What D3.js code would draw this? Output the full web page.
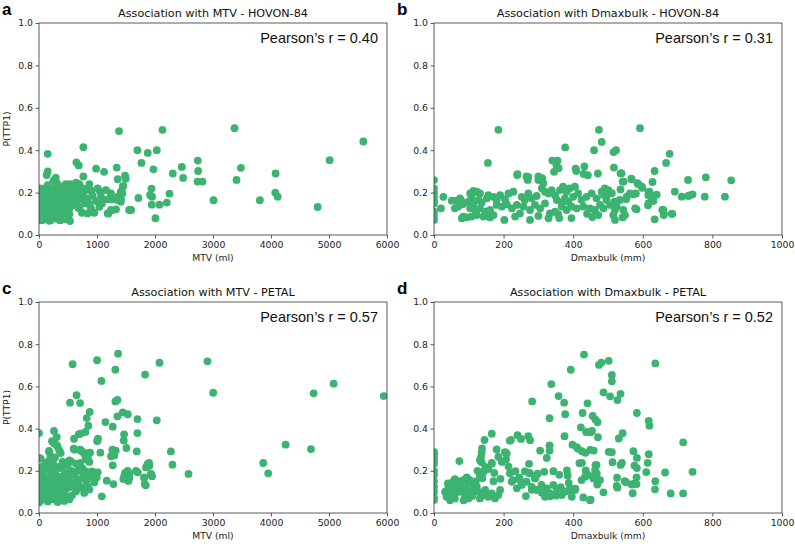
<!DOCTYPE html>
<html><head><meta charset="utf-8">
<script src="https://cdn.jsdelivr.net/npm/d3@7"></script>
<style>body{margin:0;background:#fff}svg{display:block}</style>
</head><body>
<svg id="c" width="795" height="544"></svg>
<script>
const mtvHovon = [[1380,0.49],[2129,0.496],[3371,0.504],[5592,0.441],[5011,0.353],[150,0.383],[765,0.414],[1697,0.4],[1875,0.387],[2031,0.4],[1766,0.34],[1973,0.31],[1340,0.318],[984,0.313],[1122,0.298],[645,0.343],[685,0.328],[150,0.3],[132,0.283],[288,0.271],[247,0.255],[765,0.276],[1358,0.263],[1484,0.28],[1496,0.265],[2307,0.29],[2462,0.321],[2485,0.269],[2738,0.351],[2744,0.302],[2733,0.252],[2819,0.252],[3481,0.317],[3406,0.26],[4079,0.29],[4073,0.2],[4114,0.181],[3808,0.164],[3009,0.164],[4804,0.132],[2250,0.195],[2204,0.153],[2077,0.143],[2008,0.079],[1939,0.219],[1916,0.189],[1950,0.181],[1944,0.143],[1714,0.175],[1553,0.118],[1588,0.118],[1444,0.228],[1410,0.205],[1438,0.197],[1254,0.168],[1410,0.157],[1197,0.102],[1254,0.117],
[534,0.24],[638,0.247],[695,0.24],[868,0.24],[569,0.22],[810,0.212],[902,0.209],[1011,0.22],[1052,0.205],[1155,0.212],[1241,0.196],[1270,0.181],[1184,0.168],[1385,0.184],[1356,0.165],[1414,0.168],[1454,0.232],[1069,0.181],[1086,0.165],[983,0.16],[925,0.186],[839,0.173],[753,0.189],[782,0.149],[868,0.145],[897,0.125],[954,0.105],[839,0.102],[1040,0.133],[1086,0.149],[1184,0.102],[1241,0.118],[1327,0.121],[695,0.125],[741,0.105],[638,0.165],[592,0.149],[523,0.125],[523,0.098],[534,0.066],[437,0.086],[379,0.071],[293,0.078],[178,0.067],[63,0.071],[667,0.204],[753,0.22],
[20,0.22],[60,0.21],[100,0.22],[140,0.2],[180,0.21],[220,0.22],[260,0.2],[300,0.21],[340,0.23],[380,0.2],[420,0.22],[460,0.24],[500,0.21],
[10,0.18],[45,0.17],[80,0.19],[120,0.17],[160,0.18],[200,0.16],[240,0.18],[280,0.17],[320,0.19],[360,0.16],[400,0.18],[440,0.17],[480,0.19],[520,0.16],[560,0.18],
[15,0.14],[50,0.13],[90,0.15],[130,0.12],[170,0.14],[210,0.13],[250,0.15],[290,0.12],[330,0.14],[370,0.13],[410,0.15],[450,0.12],[490,0.14],[530,0.13],
[25,0.1],[65,0.09],[105,0.11],[145,0.1],[185,0.09],[225,0.11],[265,0.1],[305,0.09],[345,0.11],[385,0.1],[425,0.09],[465,0.1],
[5,0.08],[40,0.07],[120,0.08],[200,0.07],[280,0.08],[360,0.07],[450,0.075],
[30,0.195],[110,0.155],[190,0.195],[270,0.135],[350,0.175],[430,0.135],[510,0.195],[70,0.115],[150,0.235],[230,0.155],[310,0.245],[390,0.225],[470,0.155],[550,0.22],[600,0.23],[580,0.14],[620,0.19],[650,0.16],[700,0.2],[720,0.17],[680,0.13]];

const dmaxHovon = [[185,0.496],[474,0.496],[592,0.504],[482,0.439],[460,0.4],[516,0.391],[523,0.4],[377,0.413],[155,0.34],[340,0.351],[355,0.351],[352,0.328],[358,0.315],[345,0.298],[240,0.287],[271,0.274],[269,0.26],[300,0.276],[311,0.268],[407,0.313],[409,0.302],[432,0.323],[430,0.288],[442,0.282],[471,0.29],[517,0.318],[539,0.291],[545,0.252],[567,0.266],[586,0.241],[599,0.222],[628,0.25],[634,0.302],[667,0.34],[677,0.383],[692,0.205],[712,0.181],[730,0.26],[734,0.187],[743,0.192],[781,0.272],[778,0.181],[836,0.181],[854,0.258],[634,0.074],[656,0.118],[660,0.094],[685,0.1],
[0,0.259],[0,0.22],[0,0.18],[0,0.149],[0,0.11],[0,0.071],[0,0.2],[0,0.16],[0,0.09],
[27,0.18],[20,0.126],[51,0.162],[65,0.162],[75,0.173],[80,0.157],[84,0.146],[70,0.134],[60,0.126],[84,0.087],[94,0.083],[80,0.079],[104,0.196],[113,0.208],[123,0.204],[132,0.196],[108,0.181],[99,0.157],[113,0.149],[128,0.165],[137,0.153],[152,0.173],[104,0.126],[118,0.118],[132,0.126],[147,0.11],[161,0.118],[108,0.087],[123,0.094],[142,0.087],[161,0.083],[171,0.094],[156,0.188],[171,0.18],[180,0.165],[190,0.188],[204,0.168],[180,0.142],[195,0.134],[209,0.145],[224,0.126],[238,0.142],[214,0.196],[228,0.204],[239,0.283],[202,0.071],[233,0.087],[247,0.102],[252,0.18],[261,0.165],[271,0.196],[281,0.173],[295,0.184],[266,0.276],[257,0.134],[276,0.118],[290,0.142],[305,0.126],[319,0.149],[276,0.071],[300,0.26],[310,0.22],[319,0.204],[329,0.196],[338,0.212],[348,0.188],[314,0.244],[329,0.079],[333,0.102],[348,0.11],[357,0.098],[353,0.165],[367,0.153],[376,0.173],[386,0.157],[400,0.18],[362,0.212],[371,0.228],[381,0.204],[390,0.22],[405,0.228],[414,0.196],[367,0.134],[381,0.118],[395,0.134],[410,0.126],[424,0.165],[438,0.18],[453,0.196],[467,0.173],[482,0.204],[496,0.188],[429,0.134],[448,0.126],[462,0.118],[477,0.142],[487,0.126],
[536,0.29],[568,0.262],[542,0.252],[536,0.215],[585,0.244],[597,0.228],[580,0.196],[573,0.192],[619,0.204],[616,0.188],[626,0.169],[630,0.169],[616,0.149],[563,0.196],[554,0.181],[552,0.169],[534,0.165],[519,0.157],[511,0.197],[501,0.212],[491,0.22],[487,0.189],[496,0.165],[506,0.142],[525,0.134],[520,0.118],[515,0.094],[520,0.071],[544,0.118],[542,0.083],[549,0.094],[578,0.126],[582,0.121],[659,0.118],[661,0.1],[683,0.1],[731,0.184],
[472,0.094],[455,0.085],[395,0.08],[440,0.1],[360,0.08],[300,0.09],[617,0.2],[625,0.18],[630,0.16],[615,0.14],[640,0.19]];

const mtvPetal = [[579,0.705],[1001,0.724],[1363,0.755],[1317,0.679],[1076,0.626],[2077,0.712],[2905,0.719],[1829,0.656],[5080,0.613],[3003,0.57],[4735,0.567],[5943,0.554],[648,0.558],[535,0.523],[708,0.521],[1317,0.529],[1352,0.536],[874,0.479],[823,0.45],[851,0.414],[1145,0.431],[1352,0.458],[1444,0.477],[1530,0.468],[1697,0.445],[2031,0.439],[1271,0.409],[604,0.352],[685,0.373],[714,0.376],[800,0.384],[1018,0.352],[1001,0.341],[1467,0.373],[1461,0.344],[1697,0.379],[1266,0.3],[1323,0.295],[616,0.3],[725,0.295],[851,0.284],[880,0.286],[1058,0.286],[1507,0.308],[1685,0.292],[1242,0.269],[1271,0.226],[2273,0.292],[2301,0.229],[2578,0.185],[3866,0.237],[3952,0.188],[4252,0.324],[4689,0.303],[1703,0.193],[1536,0.186],[1542,0.152],[1484,0.19],[1812,0.166],[1824,0.137],[1841,0.131],[1898,0.237],[1870,0.231],[1933,0.183],[1950,0.174],[1168,0.153],[1283,0.137],[1082,0.079],[1013,0.193],[909,0.197],[840,0.262],[823,0.253],[714,0.237],[0,0.379],[29,0.257],
[259,0.389],[224,0.34],[259,0.329],[305,0.321],[350,0.297],[374,0.284],[172,0.294],[276,0.263],[190,0.256],[5,0.261],[420,0.237],[362,0.221],[391,0.218],[552,0.245],
[305,0.36],[247,0.337],[322,0.314],[598,0.305],[707,0.3],[753,0.289],[799,0.268],[868,0.242],[1011,0.344],[1270,0.297],[1299,0.273],[1529,0.2],[1557,0.185],[1672,0.2],[1557,0.166],[1902,0.224],[1845,0.216],[1816,0.169],[1931,0.185],[1471,0.177],[1454,0.161],[925,0.195],[971,0.184],[994,0.168],[178,0.288],[207,0.265],[408,0.242],[523,0.249],[494,0.226],[638,0.234],[695,0.226],[753,0.211],[552,0.2],[638,0.196],[724,0.2],[810,0.196],[868,0.184],[667,0.161],[753,0.168],[810,0.153],[897,0.164],[954,0.145],[839,0.126],[868,0.111],[753,0.119],[552,0.145],[609,0.134],[523,0.122],[466,0.115],[408,0.103],[293,0.1],[207,0.077],[638,0.103],[569,0.084],[379,0.171],[293,0.178],[207,0.194],[92,0.202],[34,0.186],[121,0.163],[236,0.147],[350,0.139],[63,0.131],[149,0.12],[34,0.108],[236,0.108],[92,0.076],[17,0.068],[322,0.052],[437,0.057],[523,0.065],
[0,0.2],[0,0.16],[0,0.12],[0,0.08],[0,0.05],[60,0.22],[150,0.21],[250,0.2],[330,0.21],[450,0.19],[100,0.17],[180,0.16],[280,0.165],[420,0.16],[500,0.17],[50,0.15],[130,0.14],[200,0.13],[320,0.125],[400,0.135],[480,0.14],[60,0.1],[120,0.09],[170,0.1],[260,0.085],[340,0.09],[450,0.085],[30,0.06],[150,0.055],[250,0.065],[380,0.07],[600,0.18],[680,0.14],[720,0.12],[780,0.095],[250,0.23],[130,0.24]];

const dmaxPetal = [[431,0.751],[474,0.702],[481,0.713],[502,0.721],[511,0.654],[511,0.624],[636,0.709],[393,0.679],[337,0.611],[282,0.529],[358,0.554],[374,0.523],[377,0.468],[487,0.572],[506,0.553],[527,0.535],[536,0.565],[441,0.52],[427,0.474],[456,0.46],[464,0.443],[470,0.43],[583,0.474],[617,0.436],[619,0.414],[422,0.406],[437,0.384],[450,0.383],[454,0.389],[471,0.359],[542,0.378],[531,0.353],[332,0.449],[166,0.376],[145,0.346],[221,0.346],[240,0.369],[250,0.351],[305,0.296],[332,0.32],[332,0.296],[324,0.261],[375,0.364],[398,0.324],[410,0.312],[414,0.304],[425,0.293],[435,0.285],[449,0.299],[459,0.296],[502,0.29],[511,0.288],[513,0.241],[418,0.236],[425,0.238],[573,0.293],[583,0.261],[617,0.279],[614,0.238],[610,0.194],[716,0.335],[743,0.195],[664,0.192],[636,0.151],[635,0.112],[680,0.093],[716,0.093],[571,0.094],[540,0.238],[536,0.228],[526,0.167],[525,0.128],[527,0.12],[548,0.151],[552,0.146],[576,0.225],[583,0.213],[568,0.135],[575,0.139],[582,0.137],[582,0.169],[472,0.151],[469,0.135],[487,0.098],[450,0.063],[429,0.074],[468,0.187],[463,0.178],[464,0.227],[436,0.202],[440,0.178],[382,0.202],[384,0.178],[387,0.143],[360,0.181],[343,0.198],[317,0.195],[298,0.186],[273,0.233],[273,0.19],[261,0.197],[291,0.165],[281,0.11],[264,0.08],[234,0.198],[227,0.156],[245,0.167],[207,0.254],[204,0.288],[180,0.301],[135,0.265],[137,0.241],[138,0.306],[166,0.238],[125,0.2],[137,0.186],[139,0.165],[155,0.209],[173,0.19],[171,0.151],[191,0.162],[73,0.246],[0,0.29],[0,0.27],[0,0.25],[0,0.2],[0,0.18],[0,0.15],[0,0.1],[0,0.07],[316,0.104],[364,0.123],[372,0.102],[387,0.107],[406,0.115],[334,0.079],[351,0.083],[310,0.096],
[0,0.283],[0,0.235],[0,0.124],[0,0.062],[32,0.101],[41,0.117],[46,0.133],[55,0.149],[51,0.093],[36,0.077],[46,0.061],[60,0.069],[65,0.117],[75,0.133],[80,0.109],[84,0.156],[94,0.169],[103,0.156],[89,0.085],[99,0.069],[108,0.093],[113,0.117],[123,0.125],[128,0.101],[132,0.069],[142,0.085],[147,0.109],[156,0.077],[166,0.093],[175,0.069],[185,0.085],[190,0.109],[132,0.178],[142,0.194],[147,0.218],[156,0.21],[137,0.286],[132,0.25],[166,0.234],[185,0.266],[195,0.242],[209,0.282],[214,0.22],[218,0.188],[223,0.148],[238,0.117],[247,0.156],[252,0.133],[276,0.188],[290,0.164],[266,0.148],[281,0.124],[295,0.109],[309,0.133],[324,0.117],[333,0.093],[319,0.077],[343,0.133],[353,0.109],[367,0.085],[376,0.101],[391,0.117],[405,0.109],[396,0.077],[424,0.156],[434,0.172],[443,0.18],[458,0.164],[463,0.204],[467,0.228],[477,0.156],[448,0.061],
[40,0.14],[60,0.16],[70,0.1],[90,0.12],[100,0.14],[110,0.08],[120,0.15],[55,0.085],[85,0.06],[100,0.1],[115,0.13],[70,0.15],[50,0.12],[218,0.343],[271,0.364],[276,0.345]];

const panelLetters = ["a","b","c","d"];
const titles = ["Association with MTV - HOVON-84","Association with Dmaxbulk - HOVON-84","Association with MTV - PETAL","Association with Dmaxbulk - PETAL"];
const pearson = ["0.40","0.31","0.57","0.52"];
const xLabels = ["MTV (ml)","Dmaxbulk (mm)","MTV (ml)","Dmaxbulk (mm)"];
const mtvTicks = [0,1000,2000,3000,4000,5000,6000];
const dmaxTicks = [0,200,400,600,800,1000];
const yTicks = [0,0.2,0.4,0.6,0.8,1.0];
const yLabel = "P(TTP1)";

const datasets = [mtvHovon, dmaxHovon, mtvPetal, dmaxPetal];
const xTickSets = [mtvTicks, dmaxTicks, mtvTicks, dmaxTicks];
const boxes = [
  {l:39, t:23, w:348, h:212},
  {l:434, t:23, w:348, h:212},
  {l:39, t:302, w:348, h:211},
  {l:434, t:302, w:348, h:211}
];

const svg = d3.select("#c");
const FONT = "DejaVu Sans, sans-serif";
const GREEN = "#3cb371";

datasets.forEach((data, i) => {
  const b = boxes[i];
  const ticks = xTickSets[i];
  const x = d3.scaleLinear().domain([ticks[0], ticks[ticks.length-1]]).range([0, b.w]);
  const y = d3.scaleLinear().domain([0, 1]).range([b.h, 0]);
  const g = svg.append("g").attr("transform", `translate(${b.l},${b.t})`);

  const clipId = "clip" + i;
  g.append("clipPath").attr("id", clipId).append("rect").attr("width", b.w).attr("height", b.h);

  g.append("g").attr("clip-path", `url(#${clipId})`)
    .selectAll("circle").data(data).join("circle")
    .attr("cx", d => x(d[0])).attr("cy", d => y(d[1]))
    .attr("r", 3.9).attr("fill", GREEN);

  const xa = g.append("g").attr("transform", `translate(0,${b.h})`)
    .call(d3.axisBottom(x).tickValues(ticks).tickFormat(d3.format("d")).tickSizeOuter(0).tickSize(3.5).tickPadding(2.5));
  const ya = g.append("g")
    .call(d3.axisLeft(y).tickValues(yTicks).tickFormat(d3.format(".1f")).tickSizeOuter(0).tickSize(3.5).tickPadding(2.5));
  [xa, ya].forEach(a => {
    a.select(".domain").remove();
    a.selectAll("line").attr("stroke", "#333").attr("stroke-width", 0.8);
    a.selectAll("text").attr("font-family", FONT).attr("font-size", 9.3).attr("fill", "#222");
  });

  g.append("rect").attr("width", b.w).attr("height", b.h)
    .attr("fill", "none").attr("stroke", "#333").attr("stroke-width", 0.8);

  g.append("text").attr("x", b.w/2).attr("y", -6).attr("text-anchor", "middle")
    .attr("font-family", FONT).attr("font-size", 11.2).attr("fill", "#111").text(titles[i]);

  g.append("text").attr("x", b.w - 9).attr("y", 20).attr("text-anchor", "end")
    .attr("font-family", "Liberation Sans, Arial, sans-serif").attr("font-size", 14.5).attr("fill", "#111")
    .text("Pearson\u2019s r = " + pearson[i]);

  g.append("text").attr("x", b.w/2).attr("y", b.h + 26).attr("text-anchor", "middle")
    .attr("font-family", FONT).attr("font-size", 9.2).attr("fill", "#222").text(xLabels[i]);

  if (i % 2 === 0) {
    g.append("text").attr("transform", `translate(${-29},${b.h/2}) rotate(-90)`)
      .attr("text-anchor", "middle").attr("font-family", FONT).attr("font-size", 9.2)
      .attr("fill", "#222").text(yLabel);
  }

  svg.append("text").attr("x", b.l - 37).attr("y", b.t - 8)
    .attr("font-family", "Liberation Sans, Arial, sans-serif").attr("font-weight", "bold")
    .attr("font-size", 17).attr("fill", "#000").text(panelLetters[i]);
});
</script>
</body></html>
